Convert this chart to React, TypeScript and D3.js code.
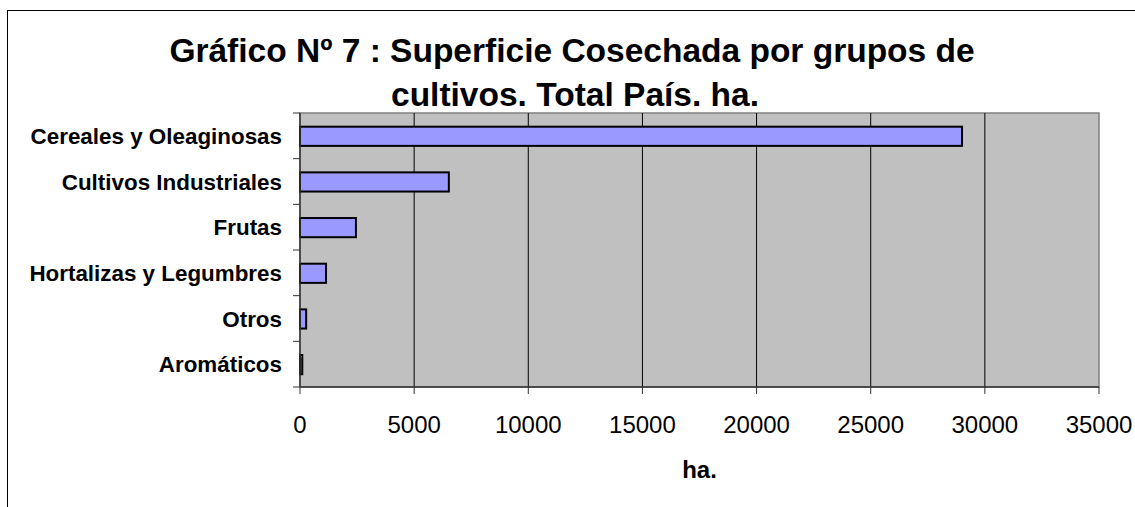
import * as d3 from "d3";

const categories = [
  "Cereales y Oleaginosas",
  "Cultivos Industriales",
  "Frutas",
  "Hortalizas y Legumbres",
  "Otros",
  "Aromáticos",
];
const values = [29000, 6520, 2450, 1140, 270, 100];
const xTicks = [0, 5000, 10000, 15000, 20000, 25000, 30000, 35000];
const titleLines = [
  "Gráfico Nº 7 : Superficie Cosechada por grupos de",
  "cultivos. Total País. ha.",
];
const axisTitle = "ha.";

export default function App({
  width = 1135,
  height = 507,
  plotLeft = 300,
  plotRight = 1099,
  plotTop = 113,
  plotBottom = 387,
}) {
  const font = "'Liberation Sans', Arial, sans-serif";
  const x = d3.scaleLinear([0, 35000], [plotLeft, plotRight]);
  const y = d3.scaleBand(categories, [plotTop, plotBottom]).padding(0);
  const bw = y.bandwidth();
  const bandEdges = [...categories.map((c) => y(c)!), plotBottom];

  return (
    <svg
      width={width}
      height={height}
      style={{ position: "absolute", left: 0, top: 0, background: "#fff" }}
      fontFamily={font}
    >
      {/* chart frame */}
      <rect x={7.5} y={10.5} width={1200} height={600} fill="#fff" stroke="#000" />

      {/* title */}
      <text x={572} y={62} textAnchor="middle" fontSize={33.5} fontWeight="bold">
        {titleLines[0]}
      </text>
      <text x={575} y={106} textAnchor="middle" fontSize={33.5} fontWeight="bold">
        {titleLines[1]}
      </text>

      {/* plot area */}
      <rect
        x={plotLeft}
        y={plotTop}
        width={plotRight - plotLeft}
        height={plotBottom - plotTop}
        fill="#c0c0c0"
        stroke="#808080"
        strokeWidth={1.5}
      />
      {xTicks.slice(1, -1).map((t) => (
        <line key={t} x1={x(t)} x2={x(t)} y1={plotTop} y2={plotBottom} stroke="#000" />
      ))}

      {/* bars */}
      {values.map((v, i) => (
        <rect
          key={categories[i]}
          x={x(0)}
          y={y(categories[i])! + bw * 0.3}
          width={x(v) - x(0)}
          height={bw * 0.42}
          fill="#9999ff"
          stroke="#000"
          strokeWidth={2}
        />
      ))}

      {/* y axis */}
      <line x1={plotLeft} x2={plotLeft} y1={plotTop} y2={plotBottom} stroke="#333" strokeWidth={1.5} />
      {bandEdges.map((e, i) => (
        <line key={i} x1={plotLeft - 7} x2={plotLeft} y1={e} y2={e} stroke="#333" />
      ))}
      {categories.map((c) => (
        <text
          key={c}
          x={282}
          y={y(c)! + bw / 2 + 8}
          textAnchor="end"
          fontSize={22.4}
          fontWeight="bold"
        >
          {c}
        </text>
      ))}

      {/* x axis */}
      <line x1={plotLeft} x2={plotRight} y1={plotBottom} y2={plotBottom} stroke="#333" strokeWidth={1.5} />
      {xTicks.map((t) => (
        <g key={t}>
          <line x1={x(t)} x2={x(t)} y1={plotBottom} y2={plotBottom + 7} stroke="#333" />
          <text x={x(t)} y={433} textAnchor="middle" fontSize={24}>
            {t}
          </text>
        </g>
      ))}
      <text x={(plotLeft + plotRight) / 2} y={478} textAnchor="middle" fontSize={24} fontWeight="bold">
        {axisTitle}
      </text>
    </svg>
  );
}
